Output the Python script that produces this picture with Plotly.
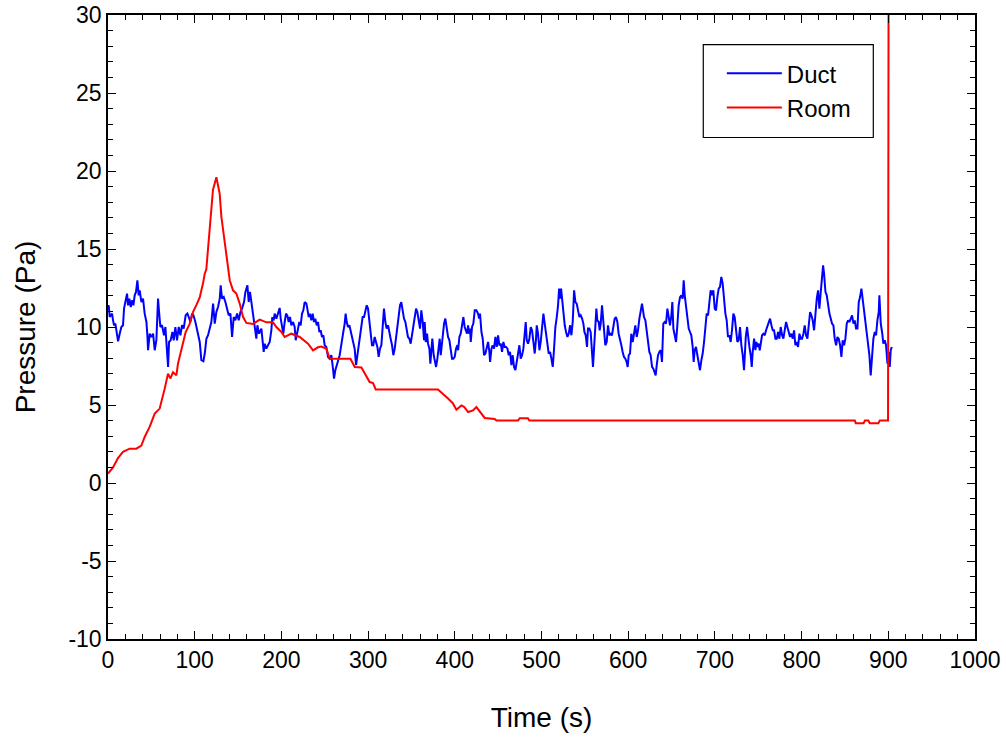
import plotly.graph_objects as go

# Duct pressure trace (time in s, pressure in Pa)
duct_time = [
    0, 0.8, 2.0, 4.7, 5.8, 7.0, 8.5, 9.7, 11.6, 13.5, 15.4, 17.3, 18.5, 20.0, 22.0, 23.1, 24.7,
    26.2, 27.7, 29.3, 30.8, 32.3, 33.9, 35.4, 36.6, 38.5, 40.4, 42.3, 44.3, 45.4, 46.2, 48.1,
    50.0, 52.0, 53.9, 55.8, 57.7, 58.9, 60.4, 62.3, 64.6, 66.2, 68.5, 69.3, 70.4, 72.3, 74.3,
    75.8, 77.7, 79.6, 81.6, 83.5, 85.4, 87.3, 89.6, 91.6, 93.1, 95.0, 97.0, 98.5, 100.8, 103.1,
    105.8, 107.7, 110.0, 111.6, 113.5, 115.4, 117.3, 119.2, 121.2, 123.1, 125.0, 126.9, 128.9,
    130.0, 131.5, 133.5, 135.4, 137.3, 139.2, 141.2, 143.1, 145.0, 146.9, 148.9, 150.8, 152.7,
    154.6, 156.9, 158.5, 160.8, 162.3, 163.8, 165.4, 167.3, 169.2, 171.1, 172.3, 174.2, 176.9,
    179.6, 180.7, 182.6, 184.5, 186.5, 188.4, 189.5, 191.1, 192.2, 194.2, 196.1, 198.0, 199.2,
    200.7, 202.2, 203.8, 205.3, 206.8, 208.4, 209.9, 211.5, 213.4, 215.3, 216.5, 218.0, 219.2,
    220.7, 222.2, 223.8, 225.3, 226.8, 228.8, 229.9, 231.5, 233.0, 234.5, 236.1, 237.6, 239.1,
    240.7, 242.2, 243.8, 245.3, 246.8, 248.4, 249.9, 251.8, 253.8, 255.7, 257.6, 259.5, 260.7,
    262.2, 263.4, 265.3, 267.2, 268.4, 269.9, 271.4, 273.0, 274.1, 275.3, 276.8, 278.4, 279.9,
    281.4, 283.0, 284.5, 286.1, 287.6, 289.1, 290.7, 292.2, 293.7, 295.3, 296.8, 298.4, 299.9,
    301.4, 303.0, 304.5, 306.0, 307.6, 309.1, 310.7, 312.2, 313.7, 315.3, 316.8, 318.3, 319.9,
    321.4, 323.0, 324.5, 326.0, 327.6, 329.1, 330.7, 332.2, 333.7, 335.3, 336.8, 338.3, 339.9,
    341.4, 343.0, 344.5, 346.0, 347.6, 349.1, 350.6, 352.2, 353.7, 355.3, 356.8, 358.3, 359.9,
    361.4, 363.0, 364.5, 365.3, 366.5, 368.0, 369.1, 370.7, 371.8, 373.0, 374.1, 375.7, 376.8,
    378.4, 379.9, 381.5, 382.6, 383.8, 385.3, 386.5, 387.6, 389.1, 390.7, 392.2, 393.8, 395.3,
    396.8, 398.4, 399.9, 401.4, 403.0, 403.8, 405.3, 406.8, 408.4, 409.9, 411.4, 413.0, 414.1,
    415.3, 416.4, 417.6, 418.4, 419.9, 421.4, 423.0, 424.9, 426.8, 428.0, 429.1, 430.7, 432.2,
    433.7, 435.3, 436.8, 438.4, 439.9, 440.7, 442.3, 443.7, 445.3, 446.8, 448.4, 449.9, 451.4,
    453.0, 454.5, 456.0, 457.6, 459.1, 460.7, 462.2, 463.7, 465.3, 466.8, 468.3, 469.9, 471.4,
    473.0, 474.5, 476.0, 477.6, 479.1, 480.7, 481.8, 483.0, 484.5, 486.0, 487.6, 489.1, 490.6,
    492.2, 493.7, 494.5, 496.0, 497.6, 499.1, 500.6, 502.2, 503.7, 505.3, 506.8, 508.3, 509.9,
    511.4, 513.0, 514.5, 516.0, 517.6, 519.1, 520.3, 521.4, 522.6, 523.7, 525.3, 526.8, 528.3,
    529.9, 531.4, 533.0, 534.5, 536.0, 537.6, 539.1, 540.6, 542.2, 543.7, 545.2, 546.8, 548.3,
    549.5, 551.0, 552.5, 553.6, 555.2, 556.7, 558.3, 559.4, 560.6, 562.1, 563.3, 564.4, 566.0,
    567.1, 568.3, 569.8, 571.0, 572.1, 573.6, 575.2, 576.7, 578.3, 579.8, 581.3, 582.9, 584.4,
    585.9, 587.5, 589.0, 590.6, 592.1, 593.6, 595.2, 596.7, 598.2, 599.4, 600.6, 602.1, 603.6,
    605.2, 606.7, 608.2, 609.8, 611.3, 612.9, 614.4, 615.9, 617.1, 618.2, 619.8, 621.3, 622.9,
    624.4, 625.9, 627.5, 629.0, 630.5, 631.7, 632.9, 634.4, 635.9, 637.5, 639.0, 640.5, 642.1,
    643.6, 645.2, 646.7, 648.2, 649.8, 650.9, 652.1, 653.6, 655.2, 656.7, 658.2, 659.8, 661.3,
    662.8, 664.0, 665.2, 666.7, 668.2, 669.8, 671.3, 672.8, 674.4, 675.5, 676.7, 678.2, 679.8,
    681.3, 682.8, 684.4, 685.9, 687.5, 689.0, 690.5, 692.1, 693.6, 695.1, 696.7, 698.2, 699.8,
    701.3, 702.8, 704.4, 705.9, 707.4, 709.0, 710.5, 712.1, 713.6, 715.1, 716.7, 718.2, 719.7,
    721.3, 722.8, 724.4, 725.9, 727.4, 729.0, 730.5, 732.1, 733.6, 734.4, 735.6, 737.1, 738.2,
    739.8, 741.3, 742.5, 743.6, 745.2, 746.7, 747.9, 749.0, 750.5, 751.7, 752.9, 754.4, 755.9,
    757.5, 759.0, 760.5, 762.1, 763.6, 765.2, 766.7, 768.2, 769.8, 771.3, 772.9, 774.4, 775.9,
    777.5, 779.0, 780.5, 782.1, 783.6, 785.2, 786.7, 788.2, 789.8, 791.3, 792.8, 794.4, 795.9,
    797.5, 799.0, 800.5, 802.1, 803.6, 805.1, 806.7, 808.2, 809.8, 811.3, 812.8, 814.4, 815.9,
    817.5, 819.0, 820.5, 822.1, 823.6, 824.8, 825.9, 827.5, 829.0, 830.5, 832.1, 833.6, 835.1,
    836.7, 838.2, 839.8, 841.3, 842.8, 844.4, 845.9, 847.4, 849.0, 850.5, 852.1, 853.6, 855.1,
    856.7, 858.2, 859.8, 861.3, 862.8, 864.4, 865.9, 867.4, 869.0, 870.5, 872.0, 873.6, 875.1,
    876.7, 878.2, 879.7, 881.3, 882.8, 884.4, 885.9, 887.4, 889.0, 889.7, 891.3, 892.8, 894.3,
    895.9, 897.4, 899.0, 900.5, 901.7, 902.8, 904.0,
]
duct_pa = [
    11.3, 11.39, 10.64, 10.86, 10.43, 10.11, 10.22, 9.79, 9.08, 9.57, 10.0, 10.11, 11.18, 11.6,
    12.14, 11.39, 11.82, 11.28, 11.71, 11.39, 12.03, 12.25, 12.99, 12.03, 12.35, 11.6, 11.82,
    10.86, 10.32, 9.47, 8.51, 9.57, 9.36, 9.57, 8.51, 9.15, 11.82, 10.96, 10.0, 10.11, 9.47,
    10.0, 8.51, 7.44, 9.04, 9.15, 9.68, 9.15, 10.0, 9.15, 10.0, 9.47, 10.11, 9.9, 10.75, 10.86,
    10.64, 10.32, 10.86, 10.75, 10.32, 9.79, 9.04, 7.87, 7.8, 8.3, 9.25, 9.47, 10.0, 10.32,
    11.5, 10.22, 10.96, 11.28, 11.82, 12.67, 11.82, 11.92, 11.6, 11.18, 10.75, 10.86, 9.36,
    10.64, 10.43, 10.86, 10.43, 10.96, 11.18, 11.6, 12.25, 12.67, 11.6, 12.25, 11.6, 10.75,
    9.9, 9.25, 10.11, 9.57, 9.9, 8.4, 8.93, 8.61, 8.83, 9.04, 9.79, 10.64, 10.43, 10.86, 10.54,
    10.96, 11.22, 10.54, 10.0, 9.57, 10.32, 10.86, 10.75, 10.32, 10.64, 10.11, 10.32, 10.0,
    9.15, 9.68, 9.9, 10.32, 10.11, 10.86, 11.07, 11.6, 11.5, 11.18, 10.64, 10.86, 10.43, 10.86,
    10.32, 10.54, 10.11, 10.32, 9.68, 9.79, 9.36, 9.47, 8.83, 8.72, 8.08, 7.97, 8.19, 7.33,
    6.69, 7.23, 7.44, 7.76, 8.19, 8.61, 9.04, 9.68, 10.22, 10.86, 10.32, 10.0, 10.11, 9.68,
    9.36, 9.04, 8.61, 7.55, 8.19, 9.04, 9.68, 10.32, 10.64, 10.64, 11.07, 11.39, 11.18, 10.32,
    9.47, 8.83, 8.83, 9.36, 9.04, 8.72, 8.08, 8.61, 8.83, 10.22, 11.18, 10.32, 9.9, 10.11,
    9.57, 9.25, 8.83, 8.19, 8.61, 9.36, 9.9, 10.54, 11.39, 11.6, 10.86, 10.54, 10.32, 9.68,
    9.36, 9.25, 8.93, 9.47, 10.11, 10.64, 11.18, 10.96, 10.32, 9.9, 11.07, 10.32, 9.15, 10.32,
    9.04, 9.57, 8.93, 8.61, 7.65, 8.4, 9.25, 8.19, 7.76, 7.44, 7.97, 8.61, 9.25, 8.19, 9.04,
    9.79, 10.22, 10.54, 10.0, 9.36, 9.15, 8.4, 7.97, 7.97, 8.08, 8.61, 8.83, 8.51, 9.36, 9.57,
    10.11, 10.64, 10.0, 9.79, 9.57, 10.11, 9.57, 9.9, 9.04, 10.0, 10.22, 11.07, 11.07, 10.86,
    10.54, 10.86, 9.68, 9.25, 8.19, 8.3, 8.61, 9.04, 8.4, 7.76, 8.61, 8.83, 8.61, 9.36, 8.72,
    9.47, 8.83, 8.93, 8.4, 9.04, 8.72, 8.72, 8.61, 8.19, 8.4, 7.55, 8.19, 7.44, 7.23, 7.87,
    8.19, 8.83, 7.97, 8.19, 8.61, 9.47, 10.32, 9.15, 8.93, 9.25, 10.0, 9.79, 8.93, 8.3, 9.25,
    10.11, 9.57, 8.51, 9.04, 10.11, 10.86, 10.22, 9.36, 8.93, 8.3, 8.4, 7.97, 7.44, 8.61, 10.0,
    10.64, 11.39, 12.46, 11.82, 12.46, 11.71, 11.07, 10.11, 9.68, 9.36, 9.57, 10.11, 9.47,
    10.32, 12.35, 11.6, 11.5, 11.07, 10.64, 10.75, 10.54, 10.22, 9.68, 9.47, 8.72, 9.9, 9.9,
    9.68, 8.4, 7.44, 8.61, 9.9, 11.18, 10.43, 10.32, 9.79, 10.22, 11.39, 10.64, 9.68, 8.83,
    9.04, 10.11, 9.47, 9.57, 9.47, 10.0, 10.54, 10.64, 10.32, 9.57, 9.25, 8.83, 8.4, 8.08,
    7.97, 7.76, 7.44, 8.19, 8.3, 9.57, 9.04, 9.47, 10.11, 9.36, 9.79, 10.54, 11.18, 11.5,
    11.07, 10.64, 10.43, 9.68, 9.04, 8.4, 8.19, 7.44, 7.33, 7.12, 6.9, 7.55, 8.19, 8.4, 8.51,
    7.76, 10.22, 10.32, 10.22, 11.18, 10.75, 10.11, 10.75, 11.6, 9.9, 9.36, 9.04, 10.11, 11.39,
    11.92, 12.03, 11.82, 12.99, 12.03, 11.39, 10.54, 9.9, 9.68, 9.47, 8.72, 7.76, 8.51, 8.72,
    8.19, 7.65, 7.23, 7.87, 8.3, 9.04, 9.9, 10.86, 10.75, 11.6, 12.35, 12.03, 12.35, 11.18,
    11.07, 11.92, 12.46, 12.57, 13.21, 12.78, 11.82, 10.86, 10.43, 9.36, 9.47, 9.04, 9.79,
    10.86, 10.64, 9.79, 9.04, 9.15, 10.0, 8.83, 8.19, 7.23, 8.4, 9.36, 10.0, 9.36, 8.72, 8.19,
    7.44, 8.4, 9.25, 8.51, 9.04, 8.72, 8.93, 8.51, 9.04, 9.47, 9.57, 9.47, 9.79, 10.0, 10.32,
    10.54, 10.11, 9.79, 9.79, 9.25, 9.25, 9.68, 9.25, 10.0, 9.47, 9.25, 9.79, 10.32, 10.0,
    9.57, 9.36, 9.57, 9.25, 9.79, 8.83, 9.04, 8.72, 9.57, 9.25, 9.25, 9.57, 10.11, 9.47, 9.25,
    10.32, 10.96, 10.75, 10.43, 9.79, 11.07, 11.82, 12.35, 11.18, 12.25, 13.31, 13.95, 13.42,
    12.25, 12.03, 11.39, 10.86, 10.54, 10.22, 10.11, 9.25, 8.83, 9.36, 9.25, 8.83, 8.08, 9.15,
    8.83, 9.25, 10.22, 10.43, 10.32, 10.54, 10.75, 10.22, 10.43, 9.9, 9.9, 11.6, 11.92, 12.46,
    11.82, 11.18, 10.32, 9.68, 8.83, 8.19, 6.9, 8.19, 9.25, 9.68, 9.47, 10.43, 10.96, 12.03,
    10.22, 9.68, 8.93, 9.15, 8.83, 7.65, 8.4, 7.44, 8.51, 8.72,
]

# Room pressure trace (time in s, pressure in Pa)
room_time = [
    0, 5.8, 11.5, 17.3, 25, 32.7, 38.5, 42.3, 48, 53.9, 59.6, 63.4, 65.4, 69.2, 72, 75, 78.9,
    80.7, 82.7, 86.5, 89.6, 94.2, 98, 101.9, 105.8, 109.6, 111.5, 113.4, 115.3, 117.3, 119.2,
    121.1, 125, 128.8, 130.8, 133.4, 135.7, 138.4, 140.4, 144.2, 148, 151.9, 155.7, 159.6,
    167.3, 175, 182.7, 190.3, 194.2, 200, 203.8, 211.5, 221.1, 230.7, 236.5, 242.2, 246,
    251.9, 255.7, 279.6, 284.6, 292.3, 296, 301.8, 305.7, 308.8, 380.6, 386.4, 392.2, 397.9,
    401.8, 407.6, 411, 415.3, 421, 424.9, 430.7, 434.5, 446, 448, 473, 474.9, 484.4, 486,
    861.4, 862.5, 871.5, 873, 877, 878.6, 888.5, 890.2, 899.7, 900.5,
]
room_pa = [
    0.6, 1.0, 1.6, 2.0, 2.2, 2.2, 2.4, 2.95, 3.6, 4.45, 4.77, 5.5, 6.05, 7.0, 6.7, 7.1, 6.9,
    7.65, 8.08, 8.9, 9.68, 10.2, 10.96, 11.4, 11.9, 12.8, 13.4, 13.7, 15.1, 16.4, 17.7, 18.8,
    19.6, 18.55, 17.05, 16.0, 14.9, 14.1, 13.0, 12.35, 12.15, 11.5, 10.65, 10.26, 10.2, 10.47,
    10.3, 10.3, 10.0, 9.68, 9.36, 9.57, 9.36, 8.93, 8.5, 8.7, 8.75, 8.6, 7.97, 7.97, 7.44,
    7.4, 7.0, 6.47, 6.4, 6.0, 6.0, 5.73, 5.41, 5.1, 4.7, 4.97, 4.87, 4.55, 4.65, 4.87, 4.45,
    4.17, 4.1, 4.0, 4.0, 4.15, 4.15, 4.0, 4.0, 3.83, 3.83, 4.0, 4.0, 3.83, 3.83, 4.0, 4.0, 40.0,
]

x_ticks = [0, 100, 200, 300, 400, 500, 600, 700, 800, 900, 1000]
y_ticks = [-10, -5, 0, 5, 10, 15, 20, 25, 30]

FONT = "Liberation Sans, Arial, sans-serif"

fig = go.Figure()
fig.add_trace(go.Scatter(x=duct_time, y=duct_pa, mode="lines", name="Duct",
                         line=dict(color="#0000FF", width=2)))
fig.add_trace(go.Scatter(x=room_time, y=room_pa, mode="lines", name="Room",
                         line=dict(color="#FF0000", width=2)))

axis_common = dict(
    showline=True, linecolor="black", linewidth=1.5, mirror="allticks",
    ticks="inside", ticklen=8, tickwidth=1.2, tickcolor="black",
    showgrid=False, zeroline=False, automargin=False,
    tickfont=dict(family=FONT, size=23, color="black"),
)

fig.update_xaxes(
    range=[0, 1000], tickvals=x_ticks, ticktext=[str(v) for v in x_ticks],
    minor=dict(ticks="inside", ticklen=5, dtick=20, tick0=0, tickcolor="black", tickwidth=1),
    title=dict(text="Time (s)", font=dict(family=FONT, size=28, color="black"), standoff=35),
    **axis_common,
)
fig.update_yaxes(
    range=[-10, 30], tickvals=y_ticks, ticktext=[str(v) for v in y_ticks],
    minor=dict(ticks="inside", ticklen=5, dtick=1, tick0=0, tickcolor="black", tickwidth=1),
    title=dict(text="Pressure (Pa)", font=dict(family=FONT, size=28, color="black"), standoff=25),
    **axis_common,
)

# Legend frame
fig.add_shape(type="rect", xref="paper", yref="paper",
              x0=0.6866, x1=0.8827, y0=0.8037, y1=0.9526,
              line=dict(color="black", width=1.2), fillcolor="white", layer="below")

fig.update_layout(
    width=1006, height=738,
    margin=dict(l=108, r=31, t=15, b=99),
    paper_bgcolor="white", plot_bgcolor="white",
    showlegend=True,
    legend=dict(
        x=0.708, y=0.942, xanchor="left", yanchor="top",
        bgcolor="rgba(0,0,0,0)", borderwidth=0,
        font=dict(family=FONT, size=24, color="black"),
        itemwidth=55, tracegroupgap=0,
    ),
)

fig.write_html("out.html")
